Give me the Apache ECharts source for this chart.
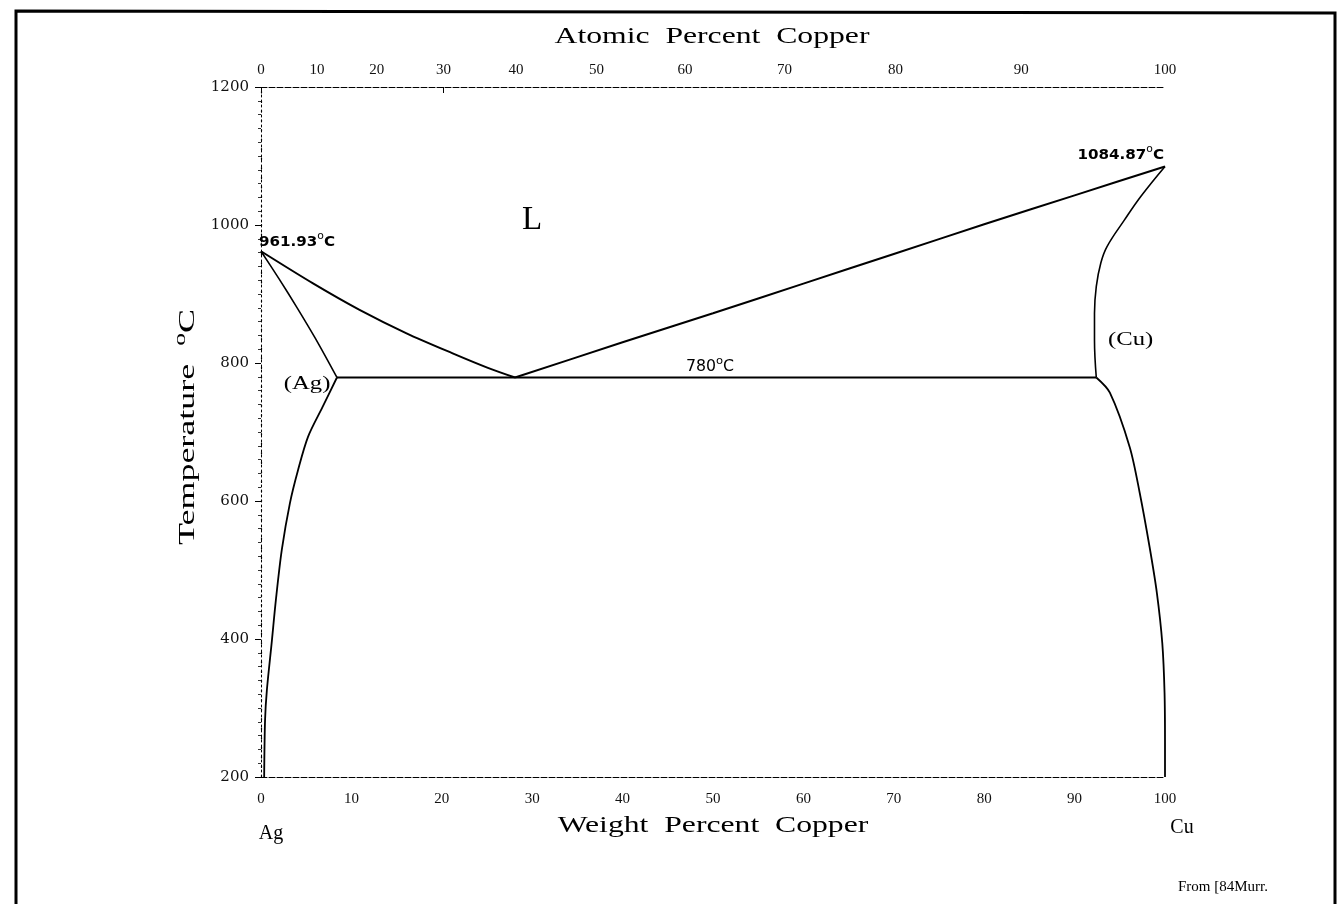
<!DOCTYPE html>
<html>
<head>
<meta charset="utf-8">
<script src="https://cdn.jsdelivr.net/npm/echarts@6/dist/echarts.min.js"></script>
<style>
html,body{margin:0;padding:0;background:#fff;}
#chart{width:1344px;height:904px;}
</style>
</head>
<body>
<div id="chart"></div>
<script>
// ---- data (weight percent Cu, temperature °C) ----
const wtTicks = [0, 10, 20, 30, 40, 50, 60, 70, 80, 90, 100];
const atTickLabels = ['0', '10', '20', '30', '40', '50', '60', '70', '80', '90', '100'];
const atTickWt = [0, 6.2, 12.8, 20.2, 28.2, 37.1, 46.9, 57.9, 70.2, 84.1, 100];
const tempTicks = [200, 400, 600, 800, 1000, 1200];

const liquidusAg = [[0, 961.93], [5.8, 915], [10.9, 877], [16.1, 843], [21.2, 814], [25.1, 793], [28.1, 779]];
const liquidusCu = [[28.1, 779], [40, 830], [50, 872], [60, 915], [70, 958], [80, 1001], [90, 1043], [100, 1084.87]];
const solidusAg = [[0, 961.93], [2, 922], [4, 880], [6, 836], [8.4, 779]];
const solvusAg = [[8.4, 779], [6.8, 736], [5.2, 693], [4.1, 645], [3.2, 597], [2.3, 529], [1.65, 457], [1.2, 397], [0.65, 326], [0.45, 283], [0.35, 200]];
const eutectic = [[8.4, 779], [92.4, 779]];
const solidusCu = [[92.4, 779], [92.2, 833], [92.2, 872], [92.4, 911], [92.9, 945], [93.6, 969], [95.5, 1007], [97.3, 1041], [100, 1084.87]];
const solvusCu = [[92.4, 779], [93.9, 757], [96.1, 678], [97.2, 612], [98.3, 533], [99.1, 467], [99.7, 394], [99.95, 322], [100, 250], [100, 200]];

const SERIF = "'Liberation Serif', 'DejaVu Serif', serif";
const DSERIF = "'DejaVu Serif', 'Liberation Serif', serif";
const SANS = "'DejaVu Sans', sans-serif";

const chart = echarts.init(document.getElementById('chart'), null, {renderer: 'canvas'});

function line(name, data, smooth, width) {
  return {
    name, type: 'line', data, smooth: smooth, showSymbol: false, symbol: 'none',
    lineStyle: {color: '#000', width: width || 1.6}, silent: true, z: 5
  };
}

const option = {
  backgroundColor: '#fff',
  animation: false,
  grid: {left: 261, right: 179, top: 87, bottom: 127, containLabel: false},
  xAxis: [
    {
      type: 'value', position: 'bottom', min: 0, max: 100, interval: 10,
      axisLine: {show: true, lineStyle: {color: '#000', width: 1, type: [6, 2]}},
      axisTick: {show: false},
      splitLine: {show: false},
      axisLabel: {
        color: '#111', fontFamily: SERIF, fontSize: 15, margin: 15,
        customValues: wtTicks, formatter: v => String(v)
      }
    },
    {
      type: 'value', position: 'top', min: 0, max: 100,
      axisLine: {show: true, lineStyle: {color: '#000', width: 1, type: [6, 2]}},
      axisTick: {show: true, inside: true, length: 6, customValues: [0, 20.2], lineStyle: {color: '#000'}},
      splitLine: {show: false},
      axisLabel: {
        color: '#111', fontFamily: SERIF, fontSize: 15, margin: 9,
        customValues: atTickWt,
        formatter: v => {
          let best = 0;
          atTickWt.forEach((w, i) => { if (Math.abs(w - v) < Math.abs(atTickWt[best] - v)) best = i; });
          return atTickLabels[best];
        }
      }
    }
  ],
  yAxis: [
    {
      type: 'value', position: 'left', min: 200, max: 1200, interval: 200,
      axisLine: {show: true, lineStyle: {color: '#000', width: 1, type: [2, 3]}},
      axisTick: {show: true, inside: false, length: 6, lineStyle: {color: '#000'}},
      minorTick: {show: true, splitNumber: 10, length: 3, lineStyle: {color: '#333'}},
      splitLine: {show: false},
      axisLabel: {
        color: '#111', fontFamily: DSERIF, fontSize: 15, margin: 12,
        customValues: tempTicks, formatter: v => String(v)
      }
    },
    {
      type: 'value', position: 'right', min: 200, max: 1200, interval: 200,
      axisLine: {show: true, lineStyle: {color: '#000', width: 1.2, type: [1.5, 8]}},
      axisTick: {show: false}, axisLabel: {show: false}, splitLine: {show: false}
    }
  ],
  series: [
    line('liquidusAg', liquidusAg, 0.3, 2),
    line('liquidusCu', liquidusCu, 0.2, 2),
    line('solidusAg', solidusAg, 0.2, 1.6),
    line('solvusAg', solvusAg, 0.3, 1.8),
    line('eutectic', eutectic, false, 2.2),
    line('solidusCu', solidusCu, 0.4, 1.6),
    line('solvusCu', solvusCu, 0.3, 1.8)
  ]
};
chart.setOption(option);

function px(x, y) { return chart.convertToPixel({xAxisIndex: 0, yAxisIndex: 0}, [x, y]); }

function supText(id, pos, main, tail, size, font, align, weight, sx) {
  return {
    type: 'text', id, x: pos[0], y: pos[1], z: 20, silent: true, scaleX: sx || 1,
    style: {
      text: '{a|' + main + '}{s|o}{a|' + tail + '}',
      align: align || 'left', verticalAlign: 'middle',
      rich: {
        a: {fontSize: size, fontFamily: font, fill: '#000', fontWeight: weight || 'normal', lineHeight: size + 4, verticalAlign: 'bottom'},
        s: {fontSize: Math.round(size * 0.72), fontFamily: font, fill: '#000', lineHeight: size + 4, verticalAlign: 'top'}
      }
    }
  };
}

function txt(id, x, y, text, size, font, align, extra) {
  return Object.assign({
    type: 'text', id, x, y, z: 20, silent: true,
    style: {text, fontSize: size, fontFamily: font, fill: '#000', align: align || 'center', verticalAlign: 'middle'}
  }, extra || {});
}

const pAg = px(0, 978), pCu = px(100, 1104), pEu = px(47, 797);
const pL = px(30, 1007), pAgP = px(5.1, 770), pCuP = px(96.2, 833);

chart.setOption({
  graphic: [
    {type: 'polyline', id: 'frame', silent: true, shape: {points: [[16, 904], [16, 11], [1335, 13], [1335, 904]]},
     style: {stroke: '#000', lineWidth: 3, fill: null}},
    txt('atTitle', 712, 37, 'Atomic  Percent  Copper', 24, SERIF, 'center', {scaleX: 1.32}),
    txt('wtTitle', 713, 826, 'Weight  Percent  Copper', 24, SERIF, 'center', {scaleX: 1.32}),
    Object.assign(supText('tTitle', [186, 427], 'Temperature  ', 'C', 24, SERIF, 'center', 'normal', 1.5), {rotation: Math.PI / 2}),
    txt('lbl', pL[0], pL[1], 'L', 33, SERIF),
    txt('agP', pAgP[0], pAgP[1], '(Ag)', 19, SERIF, 'center', {scaleX: 1.3}),
    txt('cuP', pCuP[0], pCuP[1], '(Cu)', 19, SERIF, 'center', {scaleX: 1.3}),
    supText('agMelt', [pAg[0] - 2, pAg[1]], '961.93', 'C', 14, SANS, 'left', 'bold', 1.08),
    supText('cuMelt', [pCu[0] - 1, pCu[1]], '1084.87', 'C', 14, SANS, 'right', 'bold', 1.08),
    supText('eut', [pEu[0], pEu[1]], '780', 'C', 15, SANS, 'left', 'normal', 1.05),
    txt('agEl', 271, 834, 'Ag', 20, SERIF),
    txt('cuEl', 1182, 828, 'Cu', 20, SERIF),
    txt('src', 1268, 887, 'From [84Murr.', 15, SERIF, 'right')
  ]
});
</script>
</body>
</html>
